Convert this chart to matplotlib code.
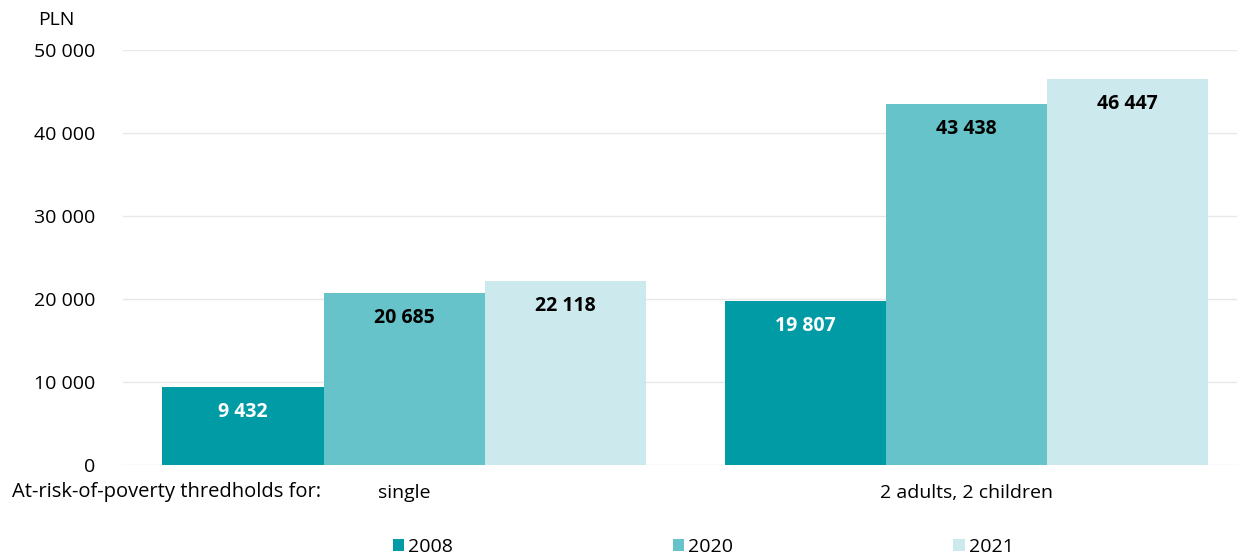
import numpy as np
import matplotlib
matplotlib.use("Agg")
import matplotlib.pyplot as plt
from matplotlib.ticker import FuncFormatter

plt.rcParams['font.family'] = ['Open Sans', 'DejaVu Sans']

categories = ['single', '2 adults, 2 children']
years = ['2008', '2020', '2021']
values_2008 = [9432, 19807]
values_2020 = [20685, 43438]
values_2021 = [22118, 46447]
colors = ['#019ba6', '#66c3c9', '#cce9ed']
label_colors = ['white', 'black', 'black']
FS = 14


def fmt(v, pos=None):
    return f"{int(v):,}".replace(',', ' ')


fig = plt.figure(figsize=(12.37, 5.56), dpi=100)
ax = fig.add_axes([123 / 1237, 1 - 465 / 556, 1114 / 1237, 415 / 556])

x = np.arange(len(categories))
w = 0.2865
series = [values_2008, values_2020, values_2021]
for i, vals in enumerate(series):
    pos = x + (i - 1) * w
    bars = ax.bar(pos, vals, width=w, color=colors[i], label=years[i], zorder=2)
    for b, v in zip(bars, vals):
        ax.annotate(fmt(v), (b.get_x() + b.get_width() / 2, v),
                    xytext=(0, -25), textcoords='offset pixels',
                    ha='center', va='center', fontsize=FS, fontweight='bold',
                    color=label_colors[i])

ax.set_xlim(-0.5, 1.482)
ax.set_ylim(0, 50000)
ax.set_yticks(range(0, 50001, 10000))
ax.yaxis.set_major_formatter(FuncFormatter(fmt))
ax.grid(axis='y', color='#e8e8e8', linewidth=1, zorder=0)
for s in ax.spines.values():
    s.set_visible(False)
ax.tick_params(axis='y', length=0, pad=20, labelsize=FS)
ax.tick_params(axis='x', length=0, pad=14, labelsize=FS)
ax.set_xticks(x)
ax.set_xticklabels(categories)

fig.text(38 / 1237, 1 - 20 / 556, 'PLN', fontsize=FS, va='center', ha='left')
fig.text(12 / 1237, 1 - 492 / 556, 'At-risk-of-poverty thredholds for:', fontsize=FS + 0.5,
         va='center', ha='left')

ax.legend(loc='center', bbox_to_anchor=(0.5207, (465 - 547) / 415), ncol=3,
          frameon=False, fontsize=FS, handlelength=0.6, handleheight=0.6,
          handletextpad=0.2, columnspacing=11.3)

fig.savefig('out.png', dpi=100)
